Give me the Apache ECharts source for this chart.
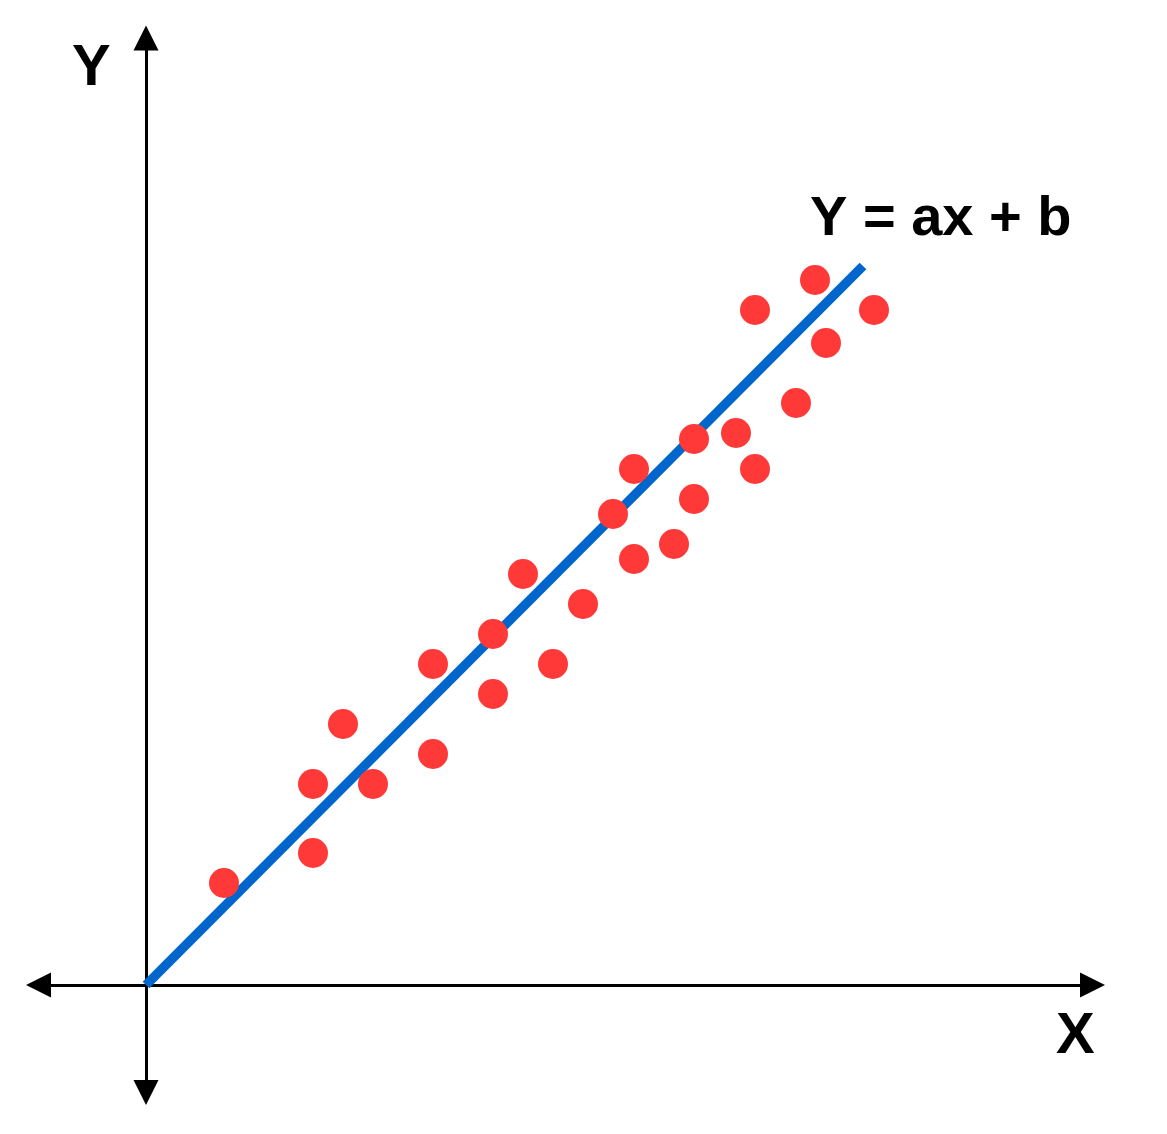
<!DOCTYPE html>
<html>
<head>
<meta charset="utf-8">
<style>
html,body{margin:0;padding:0;background:#fff;}
#chart{width:1167px;height:1134px;}
</style>
<script src="https://cdn.jsdelivr.net/npm/echarts@6/dist/echarts.min.js"></script>
</head>
<body>
<div id="chart"></div>
<script>
// Data (abstract units, origin at the axes crossing)
const pointsX = [78, 167, 167, 197, 227, 287, 287, 347, 347, 377, 407, 437, 467, 488, 488, 528, 548, 548, 590, 609, 609, 650, 669, 680, 728];
const pointsY = [102, 201, 132, 261, 201, 321, 231, 351, 291, 411, 321, 381, 471, 516, 426, 441, 546, 486, 552, 675, 516, 582, 705, 642, 675];
const lineX = [0, 717];
const lineY = [0, 719];
const axisTitles = { x: 'X', y: 'Y' };
const equationText = 'Y = ax + b';

const scatterData = pointsX.map((x, i) => [x, pointsY[i]]);
const lineData = lineX.map((x, i) => [x, lineY[i]]);

const chart = echarts.init(document.getElementById('chart'), null, { renderer: 'canvas' });
const axisCommon = {
  type: 'value',
  splitLine: { show: false },
  axisTick: { show: false },
  axisLabel: { show: false },
  axisLine: {
    show: true,
    onZero: true,
    symbol: ['triangle', 'triangle'],
    symbolSize: [25, 25],
    lineStyle: { color: '#000', width: 3 }
  }
};
const font = 'Liberation Sans, Arial, Helvetica, sans-serif';
chart.setOption({
  animation: false,
  backgroundColor: '#fff',
  grid: { left: 38.5, right: 74.5, top: 38, bottom: 41.5, containLabel: false },
  xAxis: Object.assign({}, axisCommon, { min: -107.5, max: 946.5 }),
  yAxis: Object.assign({}, axisCommon, { min: -107.5, max: 947 }),
  series: [
    {
      type: 'line',
      data: lineData,
      showSymbol: false,
      symbol: 'none',
      lineStyle: { color: '#0066cc', width: 9.5, cap: 'butt' },
      emphasis: { disabled: true },
      z: 3
    },
    {
      type: 'scatter',
      data: scatterData,
      symbol: 'circle',
      symbolSize: 30,
      itemStyle: { color: '#ff3838', opacity: 1 },
      z: 4
    }
  ],
  graphic: [
    { type: 'text', left: 72, top: 40, style: { text: axisTitles.y, font: 'bold 58px ' + font, fill: '#000' } },
    { type: 'text', left: 1056, top: 1008, style: { text: axisTitles.x, font: 'bold 58px ' + font, fill: '#000' } },
    { type: 'text', left: 810, top: 192, style: { text: equationText, font: 'bold 56px ' + font, fill: '#000' } }
  ]
});
</script>
</body>
</html>
